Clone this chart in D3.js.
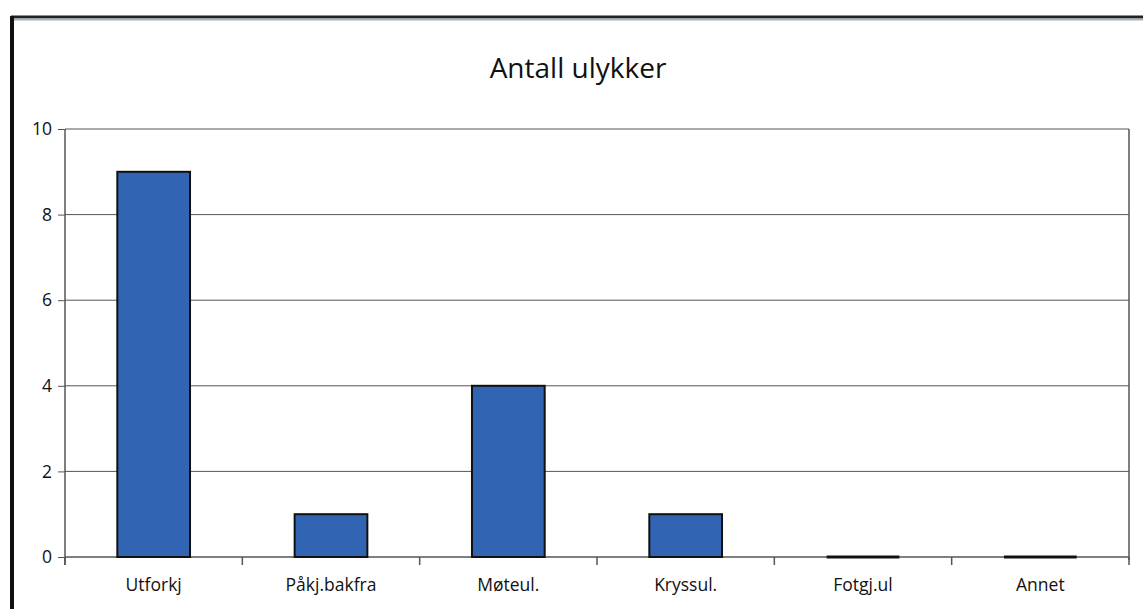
<!DOCTYPE html>
<html>
<head>
<meta charset="utf-8">
<script src="https://cdn.jsdelivr.net/npm/d3@7"></script>
<style>
  body { margin: 0; background: #fff; }
  svg { display: block; font-family: "Open Sans", "Liberation Sans", sans-serif; }
  .axis path { display: none; }
  .axis text { fill: #111; font-size: 17.5px; font-family: "Open Sans", "Liberation Sans", sans-serif; }
</style>
</head>
<body>
<svg id="chart" width="1143" height="609"></svg>
<script>
var categories = ["Utforkj", "Påkj.bakfra", "Møteul.", "Kryssul.", "Fotgj.ul", "Annet"];
var counts = [9, 1, 4, 1, 0, 0];
var yTicks = [0, 2, 4, 6, 8, 10];

var data = categories.map(function(c, i) { return {cat: c, count: counts[i]}; });

var margin = {top: 129, right: 14, bottom: 52, left: 65};
var svg = d3.select("#chart");
var W = +svg.attr("width"), H = +svg.attr("height");
var width = W - margin.left - margin.right;
var height = H - margin.top - margin.bottom;

// outer frame (scanned chart border)
svg.append("line")
    .attr("x1", 11).attr("x2", W).attr("y1", 17).attr("y2", 17)
    .attr("stroke", "#222").attr("stroke-width", 3);
svg.append("line")
    .attr("x1", 11).attr("x2", W).attr("y1", 19.5).attr("y2", 19.5)
    .attr("stroke", "#9fb0c0").attr("stroke-width", 2);
svg.append("line")
    .attr("x1", 12).attr("x2", 12).attr("y1", 16).attr("y2", H)
    .attr("stroke", "#111").attr("stroke-width", 4);

svg.append("text")
    .attr("x", 578).attr("y", 78)
    .attr("text-anchor", "middle")
    .attr("font-size", "28px")
    .attr("fill", "#111")
    .text("Antall ulykker");

var x = d3.scaleBand().domain(categories).range([0, width]).paddingInner(0.59).paddingOuter(0.295);
var xb = d3.scaleBand().domain(categories).range([0, width]);
var y = d3.scaleLinear().domain([0, 10]).range([height, 0]);

var g = svg.append("g")
    .attr("transform", "translate(" + margin.left + "," + margin.top + ")");

// gridlines
g.selectAll(".grid").data(yTicks.filter(function(t) { return t > 0; }))
  .enter().append("line")
    .attr("class", "grid")
    .attr("x1", 0).attr("x2", width)
    .attr("y1", function(d) { return y(d); })
    .attr("y2", function(d) { return y(d); })
    .attr("stroke", "#555").attr("stroke-width", 1);

// right border of plot area
g.append("line")
    .attr("x1", width).attr("x2", width).attr("y1", 0).attr("y2", height + 3)
    .attr("stroke", "#555").attr("stroke-width", 1.5);

// y axis
var yAxis = d3.axisLeft(y).tickValues(yTicks).tickSize(7).tickPadding(6);
g.append("g").attr("class", "axis").call(yAxis)
  .selectAll("line").attr("stroke", "#555");
g.append("line")
    .attr("x1", 0).attr("x2", 0).attr("y1", 0).attr("y2", height + 8)
    .attr("stroke", "#555").attr("stroke-width", 1.5);

// x axis baseline
g.append("line")
    .attr("x1", 0).attr("x2", width).attr("y1", height).attr("y2", height)
    .attr("stroke", "#555").attr("stroke-width", 1.5);

// bars
g.selectAll(".bar").data(data.filter(function(d) { return d.count > 0; }))
  .enter().append("rect")
    .attr("class", "bar")
    .attr("x", function(d) { return x(d.cat); })
    .attr("width", x.bandwidth())
    .attr("y", function(d) { return y(d.count); })
    .attr("height", function(d) { return y(0) - y(d.count); })
    .attr("fill", "#3264b4")
    .attr("stroke", "#111")
    .attr("stroke-width", 2);

// zero-height bars show only their outline
g.selectAll(".zero").data(data.filter(function(d) { return d.count === 0; }))
  .enter().append("line")
    .attr("class", "zero")
    .attr("x1", function(d) { return x(d.cat); })
    .attr("x2", function(d) { return x(d.cat) + x.bandwidth(); })
    .attr("y1", y(0)).attr("y2", y(0))
    .attr("stroke", "#111").attr("stroke-width", 3);

// x ticks at category boundaries
var bounds = categories.map(function(c) { return xb(c); }).concat([width]);
g.selectAll(".xtick").data(bounds)
  .enter().append("line")
    .attr("class", "xtick")
    .attr("x1", function(d) { return d; }).attr("x2", function(d) { return d; })
    .attr("y1", height).attr("y2", height + 8)
    .attr("stroke", "#555").attr("stroke-width", 1.5);

var xAxis = d3.axisBottom(x).tickSize(0).tickPadding(22);
g.append("g").attr("class", "axis")
    .attr("transform", "translate(0," + height + ")")
    .call(xAxis);
</script>
</body>
</html>
